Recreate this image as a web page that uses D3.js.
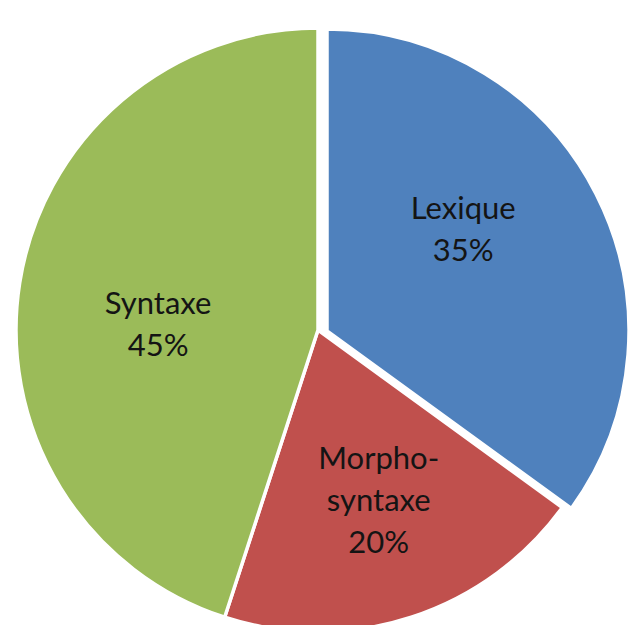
<!DOCTYPE html>
<html>
<head>
<meta charset="utf-8">
<script src="https://cdn.jsdelivr.net/npm/d3@7"></script>
<style>
  body { margin: 0; background: #fff; }
</style>
</head>
<body>
<div id="body"></div>
<script>
  var categories = ["Lexique", "Morpho-syntaxe", "Syntaxe"];
  var labelLines = [["Lexique"], ["Morpho-", "syntaxe"], ["Syntaxe"]];
  var values = [35, 20, 45];
  var colors = ["#4F81BD", "#C0504D", "#9BBB59"];

  var width = 634;
  var height = 625;
  var cx = 318;
  var cy = 330;
  var radius = 302;
  var explodeShift = [9, 1]; // only the first slice is pulled out
  var font = "Lato, 'Open Sans', sans-serif";
  var fontSize = 31;
  var lineHeight = 42;
  var labelRadius = [170, 180, 160];
  var labelAngleShift = [-0.17, -0.03, -0.12];

  var svg = d3
    .select("#body")
    .append("svg")
    .attr("width", width)
    .attr("height", height);

  var data = categories.map(function (c, i) {
    return { name: c, value: values[i], lines: labelLines[i], i: i };
  });

  var pie = d3.pie().sort(null).value(function (d) { return d.value; });
  var arcs = pie(data);

  var arc = d3.arc().innerRadius(0).outerRadius(radius);

  var group = svg.append("g").attr("transform", "translate(" + cx + "," + cy + ")");

  function offset(d) {
    if (d.data.i !== 0) return [0, 0];
    return explodeShift;
  }

  group
    .selectAll("path")
    .data(arcs)
    .enter()
    .append("path")
    .attr("d", arc)
    .attr("fill", function (d) { return colors[d.data.i]; })
    .attr("stroke", "#fff")
    .attr("stroke-width", 3.5)
    .attr("stroke-linejoin", "round")
    .attr("transform", function (d) {
      var o = offset(d);
      return "translate(" + o[0] + "," + o[1] + ")";
    });

  //LABELS
  var labels = group
    .selectAll("text")
    .data(arcs)
    .enter()
    .append("text")
    .attr("text-anchor", "middle")
    .attr("font-size", fontSize)
    .style("font-family", font)
    .attr("fill", "#141414")
    .attr("transform", function (d) {
      var o = offset(d);
      var a = (d.startAngle + d.endAngle) / 2 + labelAngleShift[d.data.i];
      var r = labelRadius[d.data.i];
      var x = Math.sin(a) * r + o[0];
      var y = -Math.cos(a) * r + o[1];
      return "translate(" + x + "," + y + ")";
    });

  labels.each(function (d) {
    var lines = d.data.lines.concat([d.data.value + "%"]);
    var n = lines.length;
    var t = d3.select(this);
    lines.forEach(function (l, k) {
      t.append("tspan")
        .attr("x", 0)
        .attr("y", (k - (n - 1) / 2) * lineHeight + fontSize * 0.36)
        .text(l);
    });
  });
</script>
</body>
</html>
